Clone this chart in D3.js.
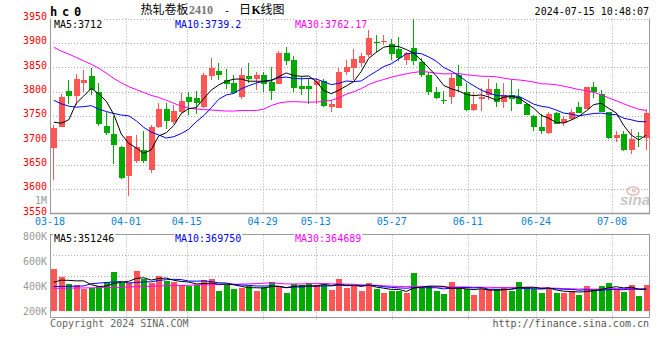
<!DOCTYPE html>
<html><head><meta charset="utf-8">
<script src="https://cdn.jsdelivr.net/npm/d3@7/dist/d3.min.js"></script>
<style>
html,body{margin:0;padding:0;background:#fff;}
svg{display:block;}
text{font-family:"DejaVu Sans Mono",monospace;font-size:10px;}
</style></head><body>
<svg id="chart" width="660" height="360"></svg>
<script>
// ---------------- data ----------------
const dates=["03-18","03-19","03-20","03-21","03-22","03-25","03-26","03-27","03-28","03-29",
"04-01","04-02","04-03","04-08","04-09","04-10","04-11","04-12","04-15","04-16",
"04-17","04-18","04-19","04-22","04-23","04-24","04-25","04-26","04-29","04-30",
"05-06","05-07","05-08","05-09","05-10","05-13","05-14","05-15","05-16","05-17",
"05-20","05-21","05-22","05-23","05-24","05-27","05-28","05-29","05-30","05-31",
"06-03","06-04","06-05","06-06","06-07","06-11","06-12","06-13","06-14","06-17",
"06-18","06-19","06-20","06-21","06-24","06-25","06-26","06-27","06-28","07-01",
"07-02","07-03","07-04","07-05","07-08","07-09","07-10","07-11","07-12","07-15"];
const open=[3685,3728,3802,3791,3817,3831,3800,3729,3712,3687,
3627,3657,3681,3638,3728,3765,3737,3759,3789,3787,
3768,3832,3842,3823,3817,3789,3831,3825,3833,3819,
3815,3880,3864,3811,3811,3813,3821,3768,3766,3840,
3848,3859,3876,3902,3903,3897,3888,3865,3890,3861,
3835,3800,3782,3789,3833,3800,3763,3784,3792,3806,
3779,3792,3789,3775,3749,3728,3714,3756,3736,3744,
3768,3765,3809,3795,3758,3705,3712,3681,3709,3705];
const high=[3731,3795,3823,3837,3845,3849,3817,3758,3749,3688,
3709,3710,3720,3731,3776,3776,3772,3797,3799,3802,
3838,3869,3859,3847,3835,3849,3858,3841,3841,3850,
3883,3891,3874,3830,3828,3828,3826,3782,3848,3864,
3888,3880,3927,3917,3917,3907,3912,3881,3949,3869,
3841,3809,3802,3837,3854,3817,3799,3808,3825,3817,
3817,3823,3806,3776,3751,3754,3758,3757,3750,3765,
3778,3810,3819,3804,3759,3719,3719,3724,3717,3765];
const low=[3618,3727,3774,3772,3799,3792,3730,3710,3651,3620,
3586,3654,3653,3633,3726,3724,3733,3756,3751,3753,
3767,3824,3824,3806,3794,3784,3817,3804,3800,3782,
3815,3854,3800,3792,3775,3775,3768,3758,3766,3834,
3823,3850,3871,3881,3895,3864,3862,3854,3854,3830,
3792,3785,3775,3775,3799,3761,3760,3760,3782,3768,
3766,3761,3775,3751,3719,3713,3713,3733,3730,3741,
3755,3764,3787,3757,3702,3696,3678,3672,3687,3679];
const close=[3725,3789,3791,3826,3823,3804,3733,3715,3690,3622,
3708,3687,3657,3728,3765,3740,3761,3780,3778,3776,
3833,3848,3833,3816,3797,3835,3825,3833,3815,3802,
3879,3862,3807,3806,3806,3821,3770,3775,3841,3850,
3867,3874,3910,3901,3904,3878,3869,3880,3862,3833,
3799,3787,3781,3828,3811,3763,3775,3789,3806,3779,
3792,3784,3775,3751,3727,3719,3753,3734,3744,3758,
3756,3809,3799,3758,3705,3710,3679,3702,3707,3755];
const volume=[538700,474200,417700,409700,377400,382800,401600,433900,514500,423100,
423100,522600,455400,423100,484900,441900,433900,407000,401600,409700,
450000,458000,361300,409700,377400,388200,401600,361300,396200,433900,
401600,347800,417700,409700,428500,409700,409700,372000,458000,388200,
409700,361300,428500,377400,342500,361300,361300,347800,509100,382800,
401600,361300,337100,433900,382800,377400,329000,377400,377400,377400,
393500,361300,433900,393500,377400,345200,385500,345200,345200,361300,
329000,401600,377400,401600,428500,369300,353200,409700,321000,409700];
const ma5Head=[3737,3735,3742,3776];
const ma10Head=[3782,3775,3770,3768,3769,3771,3764,3759,3755];
const ma30Head=[3891,3883,3877,3870,3863,3856,3848,3838,3827,3818,3810,3804,3798,3792,3788,3782,3776,3770,3766,3764,3763,3762,3761,3760,3760,3761,3761,3761,3764];
const vma5Head=[431000,449000,447000,443000];
const vma10Head=[397000,398000,399000,400000,402000,420000,425000,430000,434000];
const vma30Head=[383000,383000,384000,385000,386000,387000,388000,389000,390000,392000,394000,396000,398000,400000,402000,404000,405000,406000,408000,410000,411000,412000,413000,414000,415000,417000,419000,421000,424000];
const priceTicks=[3950,3900,3850,3800,3750,3700,3650,3600,3550];
const volTicks=[800000,600000,400000,200000];
const volTickLabels=["800K","600K","400K","200K"];
const dateTicks=["03-18","04-01","04-15","04-29","05-13","05-27","06-11","06-24","07-08"];
const priceMaLabels=["MA5:3712","MA10:3739.2","MA30:3762.17"];
const volMaLabels=["MA5:351246","MA10:369750","MA30:364689"];
const maColors=["#000000","#0000ff","#ff00ff"];
const symbol="hc0";
const titleName="热轧卷板";
const titleCode="2410";
const stamp="2024-07-15 10:48:07";

// ---------------- layout ----------------
const L=50,R=650;
const pTop=18.5,pBot=213.3;
const vTop=234.5,vBot=317.5,vBase=311;
const RED="#ff5555",GREEN="#00aa00",GRID="#aaaaaa",BORDER="#999999";

const svg=d3.select("#chart");
const xb=d3.scaleBand().domain(dates).range([L,R]);
const xg=d3.scalePoint().domain(dates).range([L,R]);
const yP=d3.scaleLinear().domain([3550,3950]).range([pBot,pTop]);
const yV=d3.scaleLinear().domain([200000,800000]).range([vBase,236.6]);
const xc=i=>xb(dates[i])+xb.bandwidth()/2;

function movAvg(vals,n,head){
  return vals.map((v,i)=> i<n-1 ? head[i] : d3.mean(vals.slice(i-n+1,i+1)));
}

// ---------- grids ----------
const g=svg.append("g");
g.selectAll(".hp").data(priceTicks.filter(t=>t!==3550)).join("line")
 .attr("x1",L).attr("x2",R)
 .attr("y1",d=>Math.round(yP(d))+0.5).attr("y2",d=>Math.round(yP(d))+0.5)
 .attr("stroke",GRID).attr("stroke-dasharray","1,2");
const vt=dateTicks.filter(d=>d!==dates[0]);
g.selectAll(".vp").data(vt).join("line")
 .attr("x1",d=>Math.round(xg(d))+0.5).attr("x2",d=>Math.round(xg(d))+0.5)
 .attr("y1",pTop).attr("y2",pBot)
 .attr("stroke",GRID).attr("stroke-dasharray","1,2");
g.selectAll(".vv").data(vt).join("line")
 .attr("x1",d=>Math.round(xg(d))+0.5).attr("x2",d=>Math.round(xg(d))+0.5)
 .attr("y1",vTop).attr("y2",vBot+2)
 .attr("stroke",GRID).attr("stroke-dasharray","1,2");
g.selectAll(".hv").data([1,2,3]).join("line")
 .attr("x1",L).attr("x2",R)
 .attr("y1",d=>Math.round(vTop+(vBot-vTop)*d/4)+0.5).attr("y2",d=>Math.round(vTop+(vBot-vTop)*d/4)+0.5)
 .attr("stroke",GRID).attr("stroke-dasharray","1,2");

// borders
g.append("line").attr("x1",L+0.5).attr("x2",L+0.5).attr("y1",pTop).attr("y2",pBot+1).attr("stroke",BORDER);
g.append("line").attr("x1",R-0.5).attr("x2",R-0.5).attr("y1",pTop).attr("y2",pBot+1).attr("stroke",BORDER);
g.append("line").attr("x1",L).attr("x2",R).attr("y1",Math.round(pBot)+0.5).attr("y2",Math.round(pBot)+0.5).attr("stroke",BORDER).attr("stroke-width",1.5);
g.append("rect").attr("x",L+0.5).attr("y",vTop).attr("width",R-L-1).attr("height",vBot-vTop)
 .attr("fill","none").attr("stroke",BORDER);

// watermark
const wm=svg.append("g").attr("opacity",0.55);
wm.append("ellipse").attr("cx",633).attr("cy",191).attr("rx",6).attr("ry",4).attr("fill","none").attr("stroke","#e08080").attr("stroke-width",1.5);
wm.append("circle").attr("cx",634).attr("cy",191).attr("r",1.6).attr("fill","#e08080");
wm.append("text").attr("x",650).attr("y",205).attr("text-anchor","end")
 .style("font-family","Liberation Sans, Arial, sans-serif").style("font-size","15px")
 .style("font-style","italic").style("font-weight","bold").attr("fill","#999").text("sina");

// ---------- candles ----------
const idx=d3.range(dates.length);
const col=i=>close[i]>open[i]?RED:GREEN;
const cg=svg.append("g").attr("shape-rendering","crispEdges");
cg.selectAll(".wick").data(idx).join("line")
 .attr("x1",i=>Math.floor(xc(i))+0.5).attr("x2",i=>Math.floor(xc(i))+0.5)
 .attr("y1",i=>yP(high[i])).attr("y2",i=>yP(low[i]))
 .attr("stroke",col);
cg.selectAll(".body").data(idx).join("rect")
 .attr("x",i=>Math.floor(xc(i))-2.5).attr("width",6)
 .attr("y",i=>yP(Math.max(open[i],close[i])))
 .attr("height",i=>Math.max(1,Math.abs(yP(open[i])-yP(close[i]))))
 .attr("fill",col);
cg.selectAll(".vol").data(idx).join("rect")
 .attr("x",i=>Math.floor(xc(i))-2.5).attr("width",6)
 .attr("y",i=>yV(volume[i])).attr("height",i=>vBase-yV(volume[i]))
 .attr("fill",col);

// ---------- moving averages ----------
const pMA=[movAvg(close,5,ma5Head),movAvg(close,10,ma10Head),movAvg(close,30,ma30Head)];
const vMA=[movAvg(volume,5,vma5Head),movAvg(volume,10,vma10Head),movAvg(volume,30,vma30Head)];
const lp=d3.line().x((d,i)=>xc(i)).y(d=>yP(d));
const lv=d3.line().x((d,i)=>xc(i)).y(d=>yV(d));
[2,1,0].forEach(k=>{
  svg.append("path").attr("d",lp(pMA[k])).attr("fill","none").attr("stroke",maColors[k]).attr("stroke-width",1);
  svg.append("path").attr("d",lv(vMA[k])).attr("fill","none").attr("stroke",maColors[k]).attr("stroke-width",1);
});

// ---------- MA labels ----------
const labX=[54,175,295];
function maLabels(arr,y){
  arr.forEach((t,k)=>{
    const bg=svg.append("rect").attr("x",labX[k]-1).attr("y",y-8.5).attr("height",10).attr("fill","#fff");
    const tx=svg.append("text").attr("x",labX[k]).attr("y",y).attr("fill",maColors[k]).text(t);
    bg.attr("width",tx.node().getComputedTextLength()+2);
  });
}
maLabels(priceMaLabels,27.5);
maLabels(volMaLabels,242);

// ---------- axis labels ----------
svg.selectAll(".pl").data(priceTicks).join("text")
 .attr("x",47).attr("y",d=>yP(d)+1.5).attr("text-anchor","end").attr("fill","#ff0000").text(d=>d);
svg.append("text").attr("x",47).attr("y",203.5).attr("text-anchor","end").attr("fill","#999").text("1M");
svg.selectAll(".vl").data(volTicks).join("text")
 .attr("x",47).attr("y",d=>Math.max(231,yV(d))+3.5).attr("text-anchor","end").attr("fill","#999")
 .text((d,i)=>volTickLabels[i]);
svg.selectAll(".dl").data(dateTicks).join("text")
 .attr("x",d=>xg(d)).attr("y",225).attr("text-anchor","middle").attr("fill","#0a84d8").text(d=>d);

// ---------- header / footer ----------
svg.append("text").attr("x",50).attr("y",16).style("font-size","12px").style("font-weight","bold")
 .style("letter-spacing","4.8px").attr("fill","#000").text(symbol);
svg.append("text").attr("x",140.5).attr("y",14).style("font-family","'Noto Sans CJK SC'").style("font-size","12px").attr("fill","#000").text(titleName);
svg.append("text").attr("x",189).attr("y",14).style("font-family","'Liberation Serif',serif").style("font-size","12px").style("font-weight","bold").attr("fill","#777").text(titleCode);
svg.append("text").attr("x",224).attr("y",14).attr("fill","#000").text("-");
svg.append("text").attr("x",239).attr("y",14).style("font-family","'Noto Sans CJK SC'").style("font-size","12px").attr("fill","#000").text("日");
svg.append("text").attr("x",251.5).attr("y",14).style("font-family","'Liberation Serif',serif").style("font-size","12px").style("font-weight","bold").attr("fill","#000").text("K");
svg.append("text").attr("x",260.5).attr("y",14).style("font-family","'Noto Sans CJK SC'").style("font-size","12px").attr("fill","#000").text("线图");
svg.append("text").attr("x",649).attr("y",15).attr("text-anchor","end").attr("fill","#000").text(stamp);
svg.append("text").attr("x",50).attr("y",326.5).attr("fill","#666").text("Copyright 2024 SINA.COM");
svg.append("text").attr("x",649).attr("y",326.5).attr("text-anchor","end").attr("fill","#555").text("http://finance.sina.com.cn");
</script>
</body></html>
